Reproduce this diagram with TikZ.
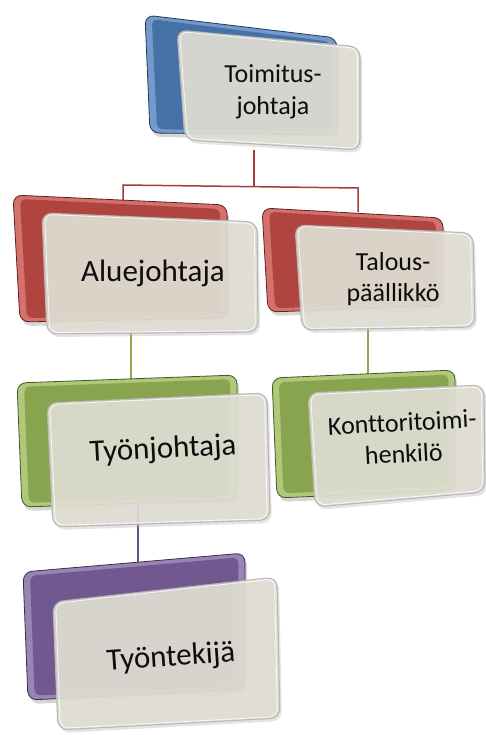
\documentclass[tikz,border=0pt]{standalone}
\usepackage{fontspec}
\setmainfont{Carlito}[Ligatures={NoCommon}]
\usetikzlibrary{calc}
\definecolor{cblue}{RGB}{79,129,189}
\definecolor{cred}{RGB}{200,78,72}
\definecolor{cgreen}{RGB}{155,187,89}
\definecolor{cpurple}{RGB}{128,100,162}
\definecolor{card}{RGB}{224,222,211}
\definecolor{lred}{RGB}{165,60,58}
\definecolor{lgreen}{RGB}{140,172,72}
\definecolor{lpurple}{RGB}{105,78,140}
\newcommand{\bevbox}[5]{%
  \fill[black!35, opacity=0.45, rounded corners=9pt] ($#2+(2,4)$) -- ($#3+(2,4)$) -- ($#4+(2,4)$) -- ($#5+(2,4)$) -- cycle;
  \fill[#1!80!white, rounded corners=9pt] #2 -- #3 -- #4 -- #5 -- cycle;
  \draw[#1!45!black, line width=0.8pt, rounded corners=9pt] #2 -- #3 -- #4 -- #5 -- cycle;
  \fill[#1!88!black, rounded corners=6pt] ($#2!8pt!#4$) -- ($#3!8pt!#5$) -- ($#4!8pt!#2$) -- ($#5!8pt!#3$) -- cycle;
}
\newcommand{\frontcard}[4]{%
  \fill[black!30, opacity=0.35, rounded corners=10pt] ($#1+(2,3)$) -- ($#2+(2,3)$) -- ($#3+(2,3)$) -- ($#4+(2,3)$) -- cycle;
  \fill[card, opacity=0.9, rounded corners=10pt] #1 -- #2 -- #3 -- #4 -- cycle;
  \draw[black!28, line width=1.1pt, rounded corners=10pt] #1 -- #2 -- #3 -- #4 -- cycle;
  \draw[white, opacity=0.8, line width=0.8pt, rounded corners=8pt] ($#1!3pt!#3$) -- ($#2!3pt!#4$) -- ($#3!3pt!#1$) -- ($#4!3pt!#2$) -- cycle;
}
\tikzset{
  lbl/.style={align=center, inner sep=0pt, text=black!95},
  big/.style={font=\fontsize{31}{36}\selectfont},
  small/.style={font=\fontsize{26}{31.5}\selectfont},
  conn/.style={line width=1.5pt}
}
\begin{document}
\begin{tikzpicture}[x=1pt,y=-1pt]
\useasboundingbox[fill=white] (0,0) rectangle (486,735);
% connectors
\coordinate (t0) at (254,150);
\coordinate (t1) at (254,186);
\coordinate (hl) at (123,185);
\coordinate (hr) at (358,188);
\coordinate (al) at (123,200);
\coordinate (ar) at (358,212);
\draw[conn, lred] (t0) -- (t1);
\draw[conn, lred] (al) -- (hl) -- (hr) -- (ar);
\coordinate (g1a) at (131,330);
\coordinate (g1b) at (131,380);
\coordinate (g2a) at (368,325);
\coordinate (g2b) at (368,374);
\draw[conn, lgreen] (g1a) -- (g1b);
\draw[conn, lgreen] (g2a) -- (g2b);
\coordinate (p1a) at (138,505);
\coordinate (p1b) at (138,565);
\draw[conn, lpurple] (p1a) -- (p1b);
% top
\bevbox{cblue}{(145,15)}{(337,38)}{(337,135)}{(150,133)}
\frontcard{(177,30)}{(360,47)}{(360,150)}{(185,140)}
\node[lbl, small] (toim) at (273,92) {Toimitus-\\johtaja};
% red left
\bevbox{cred}{(13,195)}{(227,205)}{(228,318)}{(20,322)}
\frontcard{(42,213)}{(257,222)}{(258,332)}{(47,334)}
\node[lbl, big] (alue) at (153,273) {Aluejohtaja};
% red right
\bevbox{cred}{(262,208)}{(443,218)}{(443,306)}{(268,312)}
\frontcard{(295,225)}{(473,233)}{(475,327)}{(302,330)}
\node[lbl, small] (talous) at (393,279) {Talous-\\päällikkö};
% green left
\bevbox{cgreen}{(17,383)}{(237,375)}{(237,500)}{(22,507)}
\frontcard{(47,403)}{(267,393)}{(270,520)}{(53,527)}
\node[lbl, big, rotate=3] (tyonj) at (163,450) {Työnjohtaja};
% green right
\bevbox{cgreen}{(272,378)}{(455,370)}{(455,490)}{(277,498)}
\frontcard{(308,393)}{(484,385)}{(485,492)}{(315,507)}
\node[lbl, small, rotate=3] (kontt) at (403,438) {Konttoritoimi-\\henkilö};
% purple
\bevbox{cpurple}{(23,572)}{(245,553)}{(245,690)}{(28,700)}
\frontcard{(53,602)}{(277,577)}{(280,718)}{(58,730)}
\node[lbl, big, rotate=4] (tyont) at (171,658) {Työntekijä};
\end{tikzpicture}
\end{document}
